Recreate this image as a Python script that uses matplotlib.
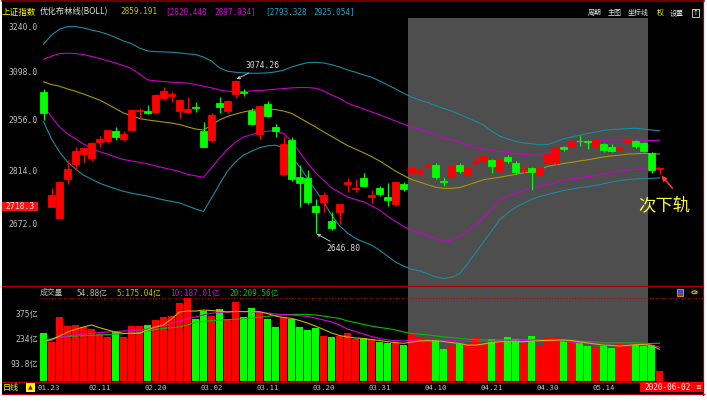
import numpy as np
import matplotlib
matplotlib.use('Agg')
import matplotlib.pyplot as plt
from matplotlib.patches import Rectangle, Circle
from matplotlib.lines import Line2D
from matplotlib.ticker import NullLocator
from matplotlib.transforms import ScaledTranslation, blended_transform_factory

# ---------------- data ----------------
opens = [3038, 2716, 2686, 2790, 2831, 2858, 2848, 2893, 2895, 2925,
         2902, 2926, 2981, 2981, 2979, 3021, 3027, 2983, 2978, 2993,
         2925, 2899, 3006, 2981, 3033, 3039, 2982, 2917, 3001, 2936,
         2804, 2899, 2797, 2792, 2718, 2728, 2677, 2703, 2776, 2763,
         2793, 2743, 2765, 2743, 2722, 2776, 2808, 2806, 2824, 2829,
         2785, 2798, 2829, 2800, 2834, 2843, 2843, 2813, 2852, 2834,
         2812, 2820, 2802, 2834, 2834, 2879, 2882, 2897, 2896, 2882,
         2887, 2880, 2872, 2894, 2897, 2891, 2862, 2817]
highs = [3048, 2766, 2786, 2843, 2880, 2879, 2893, 2910, 2928, 2935,
         2925, 2986, 2992, 2999, 3032, 3052, 3040, 3016, 3023, 3008,
         2950, 2977, 3023, 3013, 3074.26, 3047, 2990, 3000, 3010, 2944,
         2910, 2907, 2829, 2815, 2737, 2754, 2703, 2724, 2792, 2789,
         2807, 2761, 2771, 2780, 2783, 2781, 2826, 2819, 2834, 2835,
         2796, 2830, 2834, 2822, 2854, 2855, 2846, 2846, 2857, 2840,
         2829, 2823, 2824, 2861, 2880, 2883, 2900, 2914, 2900, 2901,
         2890, 2886, 2883, 2903, 2900, 2892, 2866, 2821]
lows = [2955, 2714, 2685, 2778, 2815, 2836, 2840, 2880, 2889, 2899,
        2896, 2923, 2960, 2972, 2975, 3014, 3009, 2962, 2975, 2979,
        2878, 2894, 2975, 2975, 3020, 3026, 2940, 2902, 2965, 2906,
        2799, 2786, 2716, 2722, 2646.80, 2703, 2656, 2671, 2756, 2756,
        2769, 2726, 2745, 2718, 2719, 2758, 2804, 2799, 2820, 2790,
        2771, 2795, 2808, 2798, 2829, 2835, 2806, 2809, 2834, 2803,
        2808, 2760, 2799, 2832, 2828, 2867, 2879, 2882, 2874, 2877,
        2866, 2864, 2864, 2889, 2876, 2864, 2808, 2805]
closes = [2977, 2746, 2783, 2818, 2867, 2876, 2890, 2902, 2927, 2906,
          2917, 2984, 2985, 2975, 3030, 3040, 3031, 3013, 2988, 2991,
          2880, 2971, 2993, 3012, 3072, 3034, 2943, 2997, 2968, 2923,
          2887, 2789, 2780, 2729, 2702, 2746, 2660, 2722, 2781, 2765,
          2772, 2747, 2750, 2735, 2781, 2764, 2821, 2815, 2826, 2797,
          2783, 2827, 2811, 2820, 2838, 2853, 2827, 2844, 2839, 2809,
          2815, 2810, 2822, 2860, 2878, 2872, 2895, 2895, 2892, 2898,
          2870, 2868, 2875, 2899, 2883, 2868, 2814, 2820]

boll_up2 = [3183, 3211, 3230, 3238, 3238, 3234, 3227, 3222, 3214, 3204,
            3193, 3185, 3171, 3162, 3160, 3159, 3158, 3156, 3153, 3151,
            3143, 3131, 3110, 3100, 3097, 3095, 3094, 3094, 3095, 3098,
            3103, 3113, 3120, 3126, 3127, 3125, 3120, 3113, 3104, 3097,
            3089, 3082, 3071, 3059, 3047, 3034, 3023, 3014, 3007, 2998,
            2989, 2982, 2972, 2962, 2952, 2942, 2924, 2910, 2902, 2895,
            2890, 2888, 2885, 2886, 2893, 2902, 2907, 2912, 2917, 2921,
            2926, 2928, 2930, 2931, 2932, 2930, 2927, 2925.05]
boll_up1 = [3136, 3146, 3154, 3155, 3154, 3151, 3145, 3139, 3132, 3125,
            3117, 3108, 3092, 3074, 3071, 3069, 3067, 3066, 3064, 3060,
            3055, 3050, 3044, 3040, 3039, 3039, 3041, 3042, 3044, 3046,
            3048, 3050, 3051, 3051, 3049, 3041, 3029, 3019, 3005, 2996,
            2988, 2979, 2971, 2962, 2953, 2944, 2935, 2929, 2921, 2913,
            2904, 2900, 2893, 2885, 2877, 2873, 2869, 2866, 2863, 2861,
            2858, 2856, 2856, 2859, 2870, 2880, 2887, 2891, 2894, 2896,
            2897, 2899, 2899, 2899, 2899, 2898, 2897, 2897.93]
boll_mid = [3068, 3060, 3055, 3047, 3040, 3032, 3023, 3014, 3002, 2989,
            2976, 2968, 2960, 2956, 2953, 2950, 2947, 2943, 2936, 2930,
            2927, 2941, 2956, 2966, 2973, 2979, 2984, 2986, 2987, 2986,
            2982, 2975, 2962, 2949, 2936, 2922, 2909, 2896, 2883, 2873,
            2863, 2852, 2840, 2826, 2812, 2800, 2789, 2782, 2775, 2768,
            2765, 2765, 2767, 2774, 2781, 2788, 2792, 2795, 2799, 2803,
            2807, 2810, 2816, 2825, 2829, 2833, 2836, 2840, 2843, 2847,
            2851, 2854, 2856, 2859, 2860, 2861, 2860, 2859.19]
boll_dn1 = [2997, 2965, 2936, 2916, 2902, 2887, 2876, 2866, 2859, 2851,
            2844, 2840, 2836, 2832, 2826, 2821, 2816, 2811, 2803, 2799,
            2795, 2821, 2848, 2873, 2892, 2907, 2914, 2920, 2924, 2924,
            2917, 2896, 2865, 2834, 2808, 2787, 2766, 2754, 2742, 2735,
            2729, 2718, 2707, 2691, 2677, 2664, 2654, 2648, 2641, 2632,
            2625, 2629, 2638, 2652, 2668, 2686, 2710, 2734, 2743, 2752,
            2758, 2765, 2770, 2775, 2781, 2787, 2791, 2793, 2797, 2800,
            2804, 2808, 2812, 2815, 2817, 2818, 2819, 2820.45]
boll_dn2 = [2951, 2902, 2865, 2837, 2818, 2801, 2790, 2779, 2771, 2764,
            2757, 2752, 2748, 2744, 2739, 2734, 2730, 2726, 2718, 2710,
            2703, 2739, 2776, 2812, 2837, 2856, 2867, 2877, 2882, 2884,
            2876, 2853, 2824, 2793, 2760, 2729, 2694, 2666, 2647, 2633,
            2624, 2616, 2603, 2588, 2573, 2563, 2555, 2551, 2544, 2536,
            2532, 2535, 2544, 2568, 2596, 2624, 2652, 2681, 2699, 2714,
            2725, 2735, 2743, 2748, 2754, 2759, 2763, 2767, 2769, 2773,
            2777, 2782, 2786, 2789, 2790, 2792, 2792, 2793.33]
boll_header = ['2859.191', '[2820.448', '2897.934]', '[2793.328', '2925.054]']

volumes = [265, 215, 355, 306, 310, 300, 288, 261, 246, 274,
           246, 306, 306, 312, 340, 357, 364, 437, 462, 344,
           392, 362, 402, 345, 439, 358, 406, 387, 345, 302,
           358, 345, 302, 284, 293, 250, 243, 250, 265, 231,
           237, 233, 218, 212, 212, 199, 269, 237, 231, 228,
           175, 199, 203, 209, 240, 212, 231, 218, 246, 231,
           212, 250, 199, 237, 246, 228, 224, 222, 196, 184,
           194, 184, 218, 196, 199, 196, 199, 54.88]
vol_ma5 = [218, 231, 250, 272, 287, 301, 312, 297, 284, 272,
           265, 265, 265, 284, 301, 312, 346, 385, 390, 390,
           396, 393, 390, 385, 388, 387, 387, 387, 376, 362,
           354, 349, 337, 323, 306, 287, 267, 253, 244, 239,
           236, 230, 225, 218, 213, 209, 216, 222, 224, 222,
           219, 213, 208, 199, 199, 205, 213, 218, 218, 218,
           218, 221, 224, 225, 226, 228, 225, 218, 211, 205,
           199, 197, 194, 197, 201, 203, 197, 175.04]
vol_ma10 = [216, 227, 244, 250, 256, 261, 265, 269, 272, 275,
            278, 280, 284, 289, 298, 309, 321, 334, 346, 357,
            368, 378, 382, 385, 387, 387, 387, 382, 379, 374,
            370, 368, 364, 360, 351, 340, 329, 312, 289, 275,
            261, 247, 236, 228, 224, 222, 226, 228, 228, 228,
            228, 225, 222, 220, 218, 219, 220, 221, 222, 222,
            224, 225, 226, 228, 225, 222, 216, 212, 211, 210,
            209, 209, 208, 207, 205, 205, 199, 187.01]
vol_ma20 = [228, 233, 244, 247, 250, 252, 254, 256, 258, 261,
            263, 265, 270, 278, 287, 293, 297, 301, 312, 326,
            331, 336, 340, 342, 344, 347, 351, 355, 361, 366,
            370, 371, 372, 371, 368, 362, 355, 349, 334, 326,
            315, 306, 298, 292, 284, 273, 264, 260, 256, 251,
            245, 241, 236, 232, 230, 228, 228, 228, 228, 228,
            228, 228, 228, 228, 226, 224, 222, 220, 218, 216,
            213, 212, 212, 212, 211, 209, 208, 209.56]
vol_header = ['54.88亿', '5:175.04亿', '10:187.01亿', '20:209.56亿']

price_ticks = [2672.0, 2814.0, 2956.0, 3098.0, 3240.0]
vol_ticks = [93.8, 234, 375]
vol_tick_labels = ['93.8亿', '234亿', '375亿']
date_idx = [0, 7, 14, 21, 28, 35, 42, 49, 56, 63, 70]
date_labels = ['01.23', '02.11', '02.20', '03.02', '03.11', '03.20',
               '03.31', '04.10', '04.21', '04.30', '05.14']
shade_start, shade_end = 45.5, 75.5
cursor_price = '2718.3'
cursor_date = '2020-06-02'

# ---------------- figure ----------------
W, H = 707, 403
fig = plt.figure(figsize=(W / 100, H / 100), dpi=100, facecolor='white')
MONO = ['DejaVu Sans Mono', 'Noto Sans CJK SC']
CJK = ['Noto Sans CJK SC', 'DejaVu Sans']
GRAY_TXT = '#c0c0c0'
RED_LINE = '#b00000'


def fx(x):
    return x / W


def fy(y):
    return 1 - y / H


def ftext(x, y, s, color, size, family, ha='left', va='center', **kw):
    fig.text(fx(x), fy(y), s, color=color, fontsize=size, family=family,
             ha=ha, va=va, **kw)


def hline(y, x0, x1, color=RED_LINE, lw=0.9, ls='-'):
    fig.add_artist(Line2D([fx(x0), fx(x1)], [fy(y), fy(y)], color=color,
                          lw=lw, ls=ls, transform=fig.transFigure, zorder=10))


def rect(x0, y0, x1, y1, fc, ec='none', lw=0.6, z=1):
    fig.add_artist(Rectangle((fx(x0), fy(y1)), fx(x1) - fx(x0), fy(y0) - fy(y1),
                             transform=fig.transFigure, facecolor=fc,
                             edgecolor=ec, lw=lw, zorder=z))


rect(1.5, 0, 704, 395, 'black', z=0)

n = len(opens)
idx = np.arange(n)
o = np.array(opens, float)
c = np.array(closes, float)
hi = np.array(highs, float)
lo = np.array(lows, float)
up = c >= o
cols = np.where(up, '#ff0000', '#00ff00')

X0, X1 = 40, 703
xl = ((X0 - 43.5) / 8, (X1 - 43.5) / 8)

# main panel
ax = fig.add_axes([fx(X0), fy(285.5), fx(X1) - fx(X0), fy(18) - fy(285.5)])
ax.set_facecolor('none')
ax.set_yscale('log')
ax.set_xlim(*xl)
ax.set_ylim(3240 * np.exp(-(285.5 - 26) / 1024), 3240 * np.exp(8 / 1024))
ax.axvspan(shade_start, shade_end, color='#4e4e4e', zorder=0.5, lw=0)

ax.plot(idx, boll_up2, color='#1a8ca0', lw=0.8, zorder=2)
ax.plot(idx, boll_dn2, color='#1a8ca0', lw=0.8, zorder=2)
ax.plot(idx, boll_up1, color='#c800c8', lw=0.8, zorder=2)
ax.plot(idx, boll_dn1, color='#c800c8', lw=0.8, zorder=2)
ax.plot(idx, boll_mid, color='#a89800', lw=0.8, zorder=2)

ax.vlines(idx, lo, hi, colors=cols, lw=0.8, zorder=3)
ax.bar(idx, np.abs(c - o), bottom=np.minimum(o, c), width=0.8, color=cols,
       edgecolor=cols, lw=0.6, zorder=4)

for s in ax.spines.values():
    s.set_visible(False)
ax.set_xticks([])
ax.set_yticks(price_ticks)
ax.set_yticklabels([f'{v:.1f}' for v in price_ticks])
ax.yaxis.set_minor_locator(NullLocator())
ax.tick_params(axis='y', length=0, pad=1.5, labelcolor=GRAY_TXT, labelsize=5.8)
for t in ax.get_yticklabels():
    t.set_fontfamily(MONO)

i_hi = int(np.argmax(hi))
i_lo = int(np.argmin(lo))
ax.annotate(f'{hi[i_hi]:.2f}', xy=(i_hi, hi[i_hi]), xytext=(10.5, 14),
            textcoords='offset pixels', color='#d8d8d8', fontsize=5.8,
            family=MONO, ha='left', va='center', zorder=6,
            arrowprops=dict(arrowstyle='->', color='#d8d8d8', lw=0.6,
                            shrinkA=0, shrinkB=1, mutation_scale=5))
ax.annotate(f'{lo[i_lo]:.2f}', xy=(i_lo, lo[i_lo]), xytext=(10.5, -15.5),
            textcoords='offset pixels', color='#d8d8d8', fontsize=5.8,
            family=MONO, ha='left', va='center', zorder=6,
            arrowprops=dict(arrowstyle='->', color='#d8d8d8', lw=0.6,
                            shrinkA=0, shrinkB=1, mutation_scale=5))
ax.annotate('', xy=(n - 1, lo[-1]), xytext=(13, -14.5),
            textcoords='offset pixels', zorder=6,
            arrowprops=dict(arrowstyle='-|>', color='#ff3a3a', lw=1.1,
                            shrinkA=0, shrinkB=2, mutation_scale=7))
ftext(664, 206.5, '次下轨', '#ffff30', 12.5, CJK, ha='center')

# volume panel
vax = fig.add_axes([fx(X0), fy(380.5), fx(X1) - fx(X0), fy(286) - fy(380.5)])
vax.set_facecolor('none')
vax.set_xlim(*xl)
vax.set_ylim(0, (380.5 - 286) / 0.178)
vax.axvspan(shade_start, shade_end, color='#4e4e4e', zorder=0.5, lw=0)
vax.bar(idx, volumes, width=0.8, color=cols, lw=0, zorder=3)
vax.plot(idx, vol_ma20, color='#00c000', lw=0.8, zorder=4)
vax.plot(idx, vol_ma10, color='#e000e0', lw=0.8, zorder=4)
vax.plot(idx, vol_ma5, color='#d0b000', lw=0.8, zorder=4)
for s in vax.spines.values():
    s.set_visible(False)
vax.set_yticks(vol_ticks)
vax.set_yticklabels(vol_tick_labels)
vax.tick_params(axis='y', length=0, pad=1.5, labelcolor=GRAY_TXT, labelsize=5.8)
for t in vax.get_yticklabels():
    t.set_fontfamily(MONO)
vax.set_xticks([])

# date labels along the bottom row
date_tr = blended_transform_factory(vax.transData, fig.transFigure)
for k, (di, lab) in enumerate(zip(date_idx, date_labels)):
    tr, ha = date_tr, 'center'
    if k == 0:
        tr = date_tr + ScaledTranslation(-6.0 / 100, 0, fig.dpi_scale_trans)
        ha = 'left'
    vax.text(di, fy(387.6), lab, transform=tr, ha=ha, va='center',
             color=GRAY_TXT, fontsize=5.3, family=MONO, clip_on=False,
             zorder=20)

# frame lines
hline(1, 1.5, 704, color='#800000', lw=1.2)
hline(285.7, 1.5, 703)
hline(298.3, 40, 703, color='#c00000', lw=0.8, ls=(0, (1, 1.6)))
hline(381.6, 1.5, 703)
hline(393.6, 1.5, 704)
fig.add_artist(Line2D([fx(703), fx(703)], [fy(0), fy(395)], color=RED_LINE,
                      lw=0.9, transform=fig.transFigure, zorder=10))

# header
ftext(1.5, 12, '上证指数', '#ffff00', 6.2, CJK)
ftext(39.5, 12, '优化布林线(BOLL)', '#e0e0e0', 6.0, CJK)
ftext(120.5, 12, boll_header[0], '#c8c000', 5.6, MONO)
ftext(165.5, 12, boll_header[1], '#e000e0', 5.6, MONO)
ftext(214.0, 12, boll_header[2], '#e000e0', 5.6, MONO)
ftext(265.5, 12, boll_header[3], '#20a8c8', 5.6, MONO)
ftext(313.0, 12, boll_header[4], '#20a8c8', 5.6, MONO)
ftext(587.5, 13.3, '周期', '#e8e8e8', 5.0, CJK)
ftext(608.0, 13.3, '主图', '#e8e8e8', 5.0, CJK)
ftext(628.0, 13.3, '坐标线', '#e8e8e8', 5.0, CJK)
ftext(657.0, 13.3, '权', '#ffff00', 5.0, CJK)
ftext(670.0, 13.3, '设置', '#e8e8e8', 5.0, CJK)
rect(691.5, 9.5, 698.8, 17, 'black', ec='#e0e0e0', lw=0.6, z=11)
ftext(695.2, 13.2, '↑', '#e0e0e0', 5, ['DejaVu Sans'], ha='center', zorder=12)

# volume header
ftext(40, 293.3, '成交量', GRAY_TXT, 5.6, CJK)
ftext(76, 293.3, vol_header[0], GRAY_TXT, 5.6, MONO)
ftext(116.5, 293.3, vol_header[1], '#c8c800', 5.6, MONO)
ftext(170, 293.3, vol_header[2], '#e000e0', 5.6, MONO)
ftext(229, 293.3, vol_header[3], '#00c000', 5.6, MONO)
rect(676.5, 289.5, 683, 296, '#3050c0', ec='#c0a000', lw=0.7, z=11)
rect(678, 292.5, 681.5, 295, '#e02020', z=12)
fig.add_artist(Circle((fx(694.5), fy(292.3)), 2.6 / W, transform=fig.transFigure,
                      facecolor='none', edgecolor='#d0b000', lw=0.8, zorder=11))
ftext(694.5, 292.5, '+', '#d0b000', 4.5, ['DejaVu Sans'], ha='center', zorder=12)

# cursor boxes and bottom row
rect(2, 201.5, 38, 211, '#ff1010', z=11)
ftext(20, 206.3, cursor_price, '#ffe0e0', 5.8, MONO, ha='center', zorder=12)
ftext(2.5, 387.6, '日线', '#ffff00', 5.8, CJK)
rect(25.5, 382.5, 34.5, 392.3, '#ffff00', z=11)
ftext(30.0, 387.6, '▲', '#b00000', 4.5, ['DejaVu Sans'], ha='center', zorder=12)
rect(639.5, 382.2, 703, 392.2, '#ff0000', z=11)
ftext(667.5, 387.4, cursor_date, '#ffffff', 5.6, MONO, ha='center', zorder=12)
ftext(698.5, 387.4, '≡', '#ffffff', 5.0, ['DejaVu Sans'], ha='center', zorder=12)

fig.savefig('out.png', dpi=100, facecolor=fig.get_facecolor())
